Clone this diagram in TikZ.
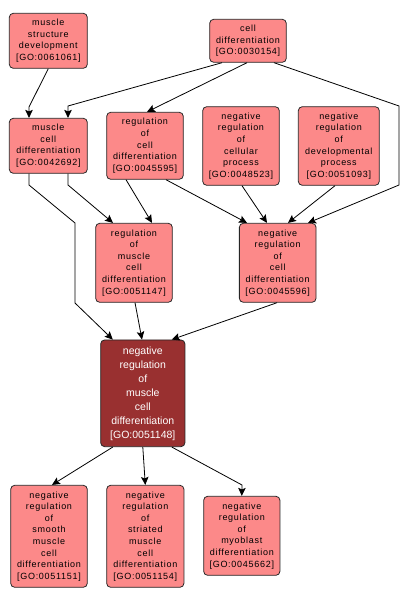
\documentclass[tikz,border=0pt]{standalone}
\usepackage{fontspec}
\setmainfont{Liberation Sans}
\newfontfamily\spacedfont[LetterSpace=8]{Liberation Sans}
\usetikzlibrary{arrows.meta}
\definecolor{lightgo}{RGB}{252,137,137}
\definecolor{darkgo}{RGB}{153,48,48}
\tikzset{
  goterm/.style={draw=black!85, line width=0.8pt, rounded corners=4pt, fill=lightgo,
    inner sep=0pt, align=center, text=black,
    font=\spacedfont\fontsize{9}{11.6}\selectfont},
  gofocus/.style={goterm, fill=darkgo, text=white,
    font=\fontsize{10.5}{14}\selectfont},
  arr/.style={draw=black, line width=0.8pt, -{Stealth[length=8pt,width=7.5pt,inset=1.5pt]}}
}
\begin{document}
\begin{tikzpicture}[x=1pt,y=-1pt]
\useasboundingbox (0,0) rectangle (409,602);
\node[goterm, minimum width=78pt, minimum height=55pt] (msd) at (48.3,40.8)
  {muscle\\structure\\development\\{[GO:0061061]}};
\node[goterm, minimum width=76.6pt, minimum height=43pt] (cd) at (248,40.8)
  {cell\\differentiation\\{[GO:0030154]}};
\node[goterm, minimum width=78pt, minimum height=55pt] (mcd) at (48.3,145.8)
  {muscle\\cell\\differentiation\\{[GO:0042692]}};
\node[goterm, minimum width=76.6pt, minimum height=67pt] (rcd) at (145,145.8)
  {regulation\\of\\cell\\differentiation\\{[GO:0045595]}};
\node[goterm, minimum width=76.6pt, minimum height=78.6pt] (nrcp) at (241,146)
  {negative\\regulation\\of\\cellular\\process\\{[GO:0048523]}};
\node[goterm, minimum width=81pt, minimum height=78.6pt] (nrdp) at (338.8,146)
  {negative\\regulation\\of\\developmental\\process\\{[GO:0051093]}};
\node[goterm, minimum width=76.6pt, minimum height=79pt] (rmcd) at (134,262.8)
  {regulation\\of\\muscle\\cell\\differentiation\\{[GO:0051147]}};
\node[goterm, minimum width=76.7pt, minimum height=79pt] (nrcd) at (277.7,262.8)
  {negative\\regulation\\of\\cell\\differentiation\\{[GO:0045596]}};
\node[gofocus, minimum width=84.3pt, minimum height=106.7pt] (nrmcd) at (142.8,393.3)
  {negative\\regulation\\of\\muscle\\cell\\differentiation\\{[GO:0051148]}};
\node[goterm, minimum width=76.6pt, minimum height=102pt] (smooth) at (49,536.3)
  {negative\\regulation\\of\\smooth\\muscle\\cell\\differentiation\\{[GO:0051151]}};
\node[goterm, minimum width=77.3pt, minimum height=102pt] (stri) at (145.3,536.3)
  {negative\\regulation\\of\\striated\\muscle\\cell\\differentiation\\{[GO:0051154]}};
\node[goterm, minimum width=76.3pt, minimum height=79pt] (myo) at (241.8,535.8)
  {negative\\regulation\\of\\myoblast\\differentiation\\{[GO:0045662]}};

\draw[arr] (msd.south) -- (29,107) -- ([xshift=-19.3pt]mcd.north);
\draw[arr] ([xshift=-26pt]cd.south) -- (68,106) -- ([xshift=19.7pt]mcd.north);
\draw[arr] ([xshift=-1pt]cd.south) -- ([xshift=2pt]rcd.north);
\draw[arr] ([xshift=26pt]cd.south) -- (399,106) -- (399,185) -- ([xshift=30.3pt]nrcd.north);
\draw[arr] ([xshift=19.7pt]mcd.south) -- (68,185) -- ([xshift=-21pt]rmcd.north);
\draw[arr] ([xshift=-19.3pt]mcd.south) -- (29,185) -- (75,223) -- (75,303) -- ([xshift=-30pt]nrmcd.north);
\draw[arr] ([xshift=-19pt]rcd.south) -- ([xshift=18pt]rmcd.north);
\draw[arr] ([xshift=21pt]rcd.south) -- ([xshift=-30.7pt]nrcd.north);
\draw[arr] ([xshift=1pt]nrcp.south) -- ([xshift=-10.7pt]nrcd.north);
\draw[arr] ([xshift=-3.8pt]nrdp.south) -- ([xshift=10.3pt]nrcd.north);
\draw[arr] ([xshift=1pt]rmcd.south) -- ([xshift=-0.8pt]nrmcd.north);
\draw[arr] ([xshift=-0.7pt]nrcd.south) -- ([xshift=29pt]nrmcd.north);
\draw[arr] ([xshift=-30pt]nrmcd.south) -- ([xshift=3pt]smooth.north);
\draw[arr] (nrmcd.south) -- (stri.north);
\draw[arr] ([xshift=29pt]nrmcd.south) -- (242,485) -- (myo.north);
\end{tikzpicture}
\end{document}
